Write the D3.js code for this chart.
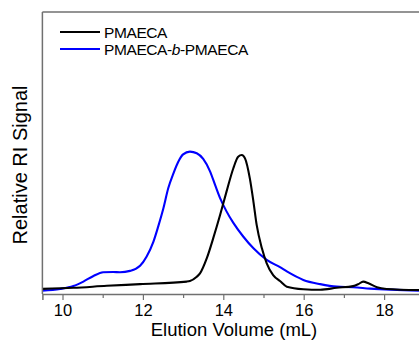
<!DOCTYPE html>
<html>
<head>
<meta charset="utf-8">
<script src="https://cdn.jsdelivr.net/npm/d3@7"></script>
<style>
  html, body { margin: 0; padding: 0; background: #fff; }
  svg { display: block; font-family: "Liberation Sans", Arial, sans-serif; }
</style>
</head>
<body>
<svg id="chart" width="419" height="340"></svg>
<script>
// ---- data ----
const seriesNames = ["PMAECA", "PMAECA-b-PMAECA"];
const xTicksMajor = [10, 12, 14, 16, 18];
const xTicksMinor = [11, 13, 15, 17];

// PMAECA (black): elution volume (mL), relative signal
const pmaecaX = [9.5, 10.27, 11.10, 11.93, 13.09, 13.17, 13.34, 13.42, 13.59, 13.75, 13.92, 14.08, 14.25, 14.37, 14.46, 14.54, 14.66, 14.75, 14.83, 14.96, 15.08, 15.24, 15.41, 15.58, 15.99, 16.41, 16.82, 17.23, 17.36, 17.48, 17.61, 17.82, 18.06, 18.9];
const pmaecaY = [1.8, 2.2, 2.9, 3.5, 4.4, 4.6, 6.1, 7.3, 12.7, 19.8, 28.0, 36.3, 44.6, 48.7, 49.3, 48.1, 41.0, 32.7, 24.5, 16.2, 10.9, 6.7, 4.6, 2.6, 1.7, 1.5, 2.2, 2.8, 3.5, 4.4, 3.8, 2.4, 1.8, 1.4];

// PMAECA-b-PMAECA (blue)
const blockX = [9.5, 9.94, 10.27, 10.52, 10.77, 11.01, 11.26, 11.43, 11.68, 11.93, 12.09, 12.26, 12.38, 12.51, 12.63, 12.76, 12.88, 13.00, 13.17, 13.34, 13.50, 13.67, 13.80, 13.92, 14.08, 14.25, 14.50, 14.75, 15.08, 15.41, 15.58, 15.99, 16.41, 16.82, 17.23, 17.65, 18.9];
const blockY = [1.2, 1.8, 2.8, 4.4, 6.4, 7.7, 7.8, 7.7, 8.2, 10.0, 13.2, 18.5, 23.9, 30.4, 37.5, 42.8, 46.9, 49.5, 50.5, 49.9, 47.9, 43.5, 38.5, 34.0, 29.3, 25.2, 20.3, 16.2, 12.1, 9.5, 8.0, 5.0, 3.5, 2.6, 2.4, 1.9, 1.2];

// ---- layout ----
const svg = d3.select("#chart");
const plotLeft = 42.4, plotTop = 12, plotBottom = 294;
const x = d3.scaleLinear().domain([9.5, 19]).range([plotLeft, plotLeft + 9.5 * 40.2]);
const y = d3.scaleLinear().domain([0, 100]).range([plotBottom, plotTop]);
const plotRight = x(19);

svg.append("defs").append("clipPath").attr("id", "plotclip")
  .append("rect").attr("x", plotLeft).attr("y", plotTop)
  .attr("width", plotRight - plotLeft).attr("height", plotBottom - plotTop);

const line = d3.line().x(d => x(d[0])).y(d => y(d[1])).curve(d3.curveMonotoneX);

const plot = svg.append("g").attr("clip-path", "url(#plotclip)");
plot.append("path").datum(blockX.map((v, i) => [v, blockY[i]]))
  .attr("d", line).attr("fill", "none").attr("stroke", "#0000ff").attr("stroke-width", 2.1)
  .attr("stroke-linejoin", "round");
plot.append("path").datum(pmaecaX.map((v, i) => [v, pmaecaY[i]]))
  .attr("d", line).attr("fill", "none").attr("stroke", "#000").attr("stroke-width", 2.1)
  .attr("stroke-linejoin", "round");

// frame
const frameColor = "#707070";
svg.append("line").attr("x1", plotLeft).attr("x2", plotRight).attr("y1", plotTop).attr("y2", plotTop)
  .attr("stroke", frameColor).attr("stroke-width", 1.5);
svg.append("line").attr("x1", plotLeft).attr("x2", plotLeft).attr("y1", plotTop).attr("y2", plotBottom)
  .attr("stroke", frameColor).attr("stroke-width", 1.5);

// x axis
const axMinor = svg.append("g").attr("transform", `translate(0,${plotBottom})`)
  .call(d3.axisBottom(x).tickValues(xTicksMinor).tickSize(4).tickFormat(""));
const axMajor = svg.append("g").attr("transform", `translate(0,${plotBottom})`)
  .call(d3.axisBottom(x).tickValues(xTicksMajor).tickSize(6).tickPadding(4).tickFormat(d3.format("d")));
[axMinor, axMajor].forEach(g => {
  g.select(".domain").attr("stroke", frameColor).attr("stroke-width", 1.5);
  g.selectAll(".tick line").attr("stroke", frameColor).attr("stroke-width", 1.2);
});
axMinor.select(".domain").remove();
axMajor.selectAll(".tick text").attr("font-size", 16.5).attr("fill", "#000")
  .attr("font-family", "Liberation Sans, Arial, sans-serif");

// axis titles
svg.append("text").attr("x", 234).attr("y", 335.5).attr("text-anchor", "middle")
  .attr("font-size", 18.5).attr("fill", "#000").text("Elution Volume (mL)");
svg.append("text").attr("transform", "translate(27,165) rotate(-90)").attr("text-anchor", "middle")
  .attr("font-size", 20).attr("fill", "#000").text("Relative RI Signal");

// legend
const legend = svg.append("g");
const colors = ["#000", "#0000ff"];
seriesNames.forEach((name, i) => {
  const yy = 32 + i * 17;
  legend.append("line").attr("x1", 60).attr("x2", 100).attr("y1", yy).attr("y2", yy)
    .attr("stroke", colors[i]).attr("stroke-width", 2);
  const t = legend.append("text").attr("x", 104).attr("y", yy + 5.5).attr("font-size", 15.5)
    .attr("fill", "#000").attr("letter-spacing", -0.4);
  if (name.includes("-b-")) {
    const parts = name.split("-b-");
    t.append("tspan").text(parts[0] + "-");
    t.append("tspan").attr("font-style", "italic").text("b");
    t.append("tspan").text("-" + parts[1]);
  } else {
    t.text(name);
  }
});
</script>
</body>
</html>
